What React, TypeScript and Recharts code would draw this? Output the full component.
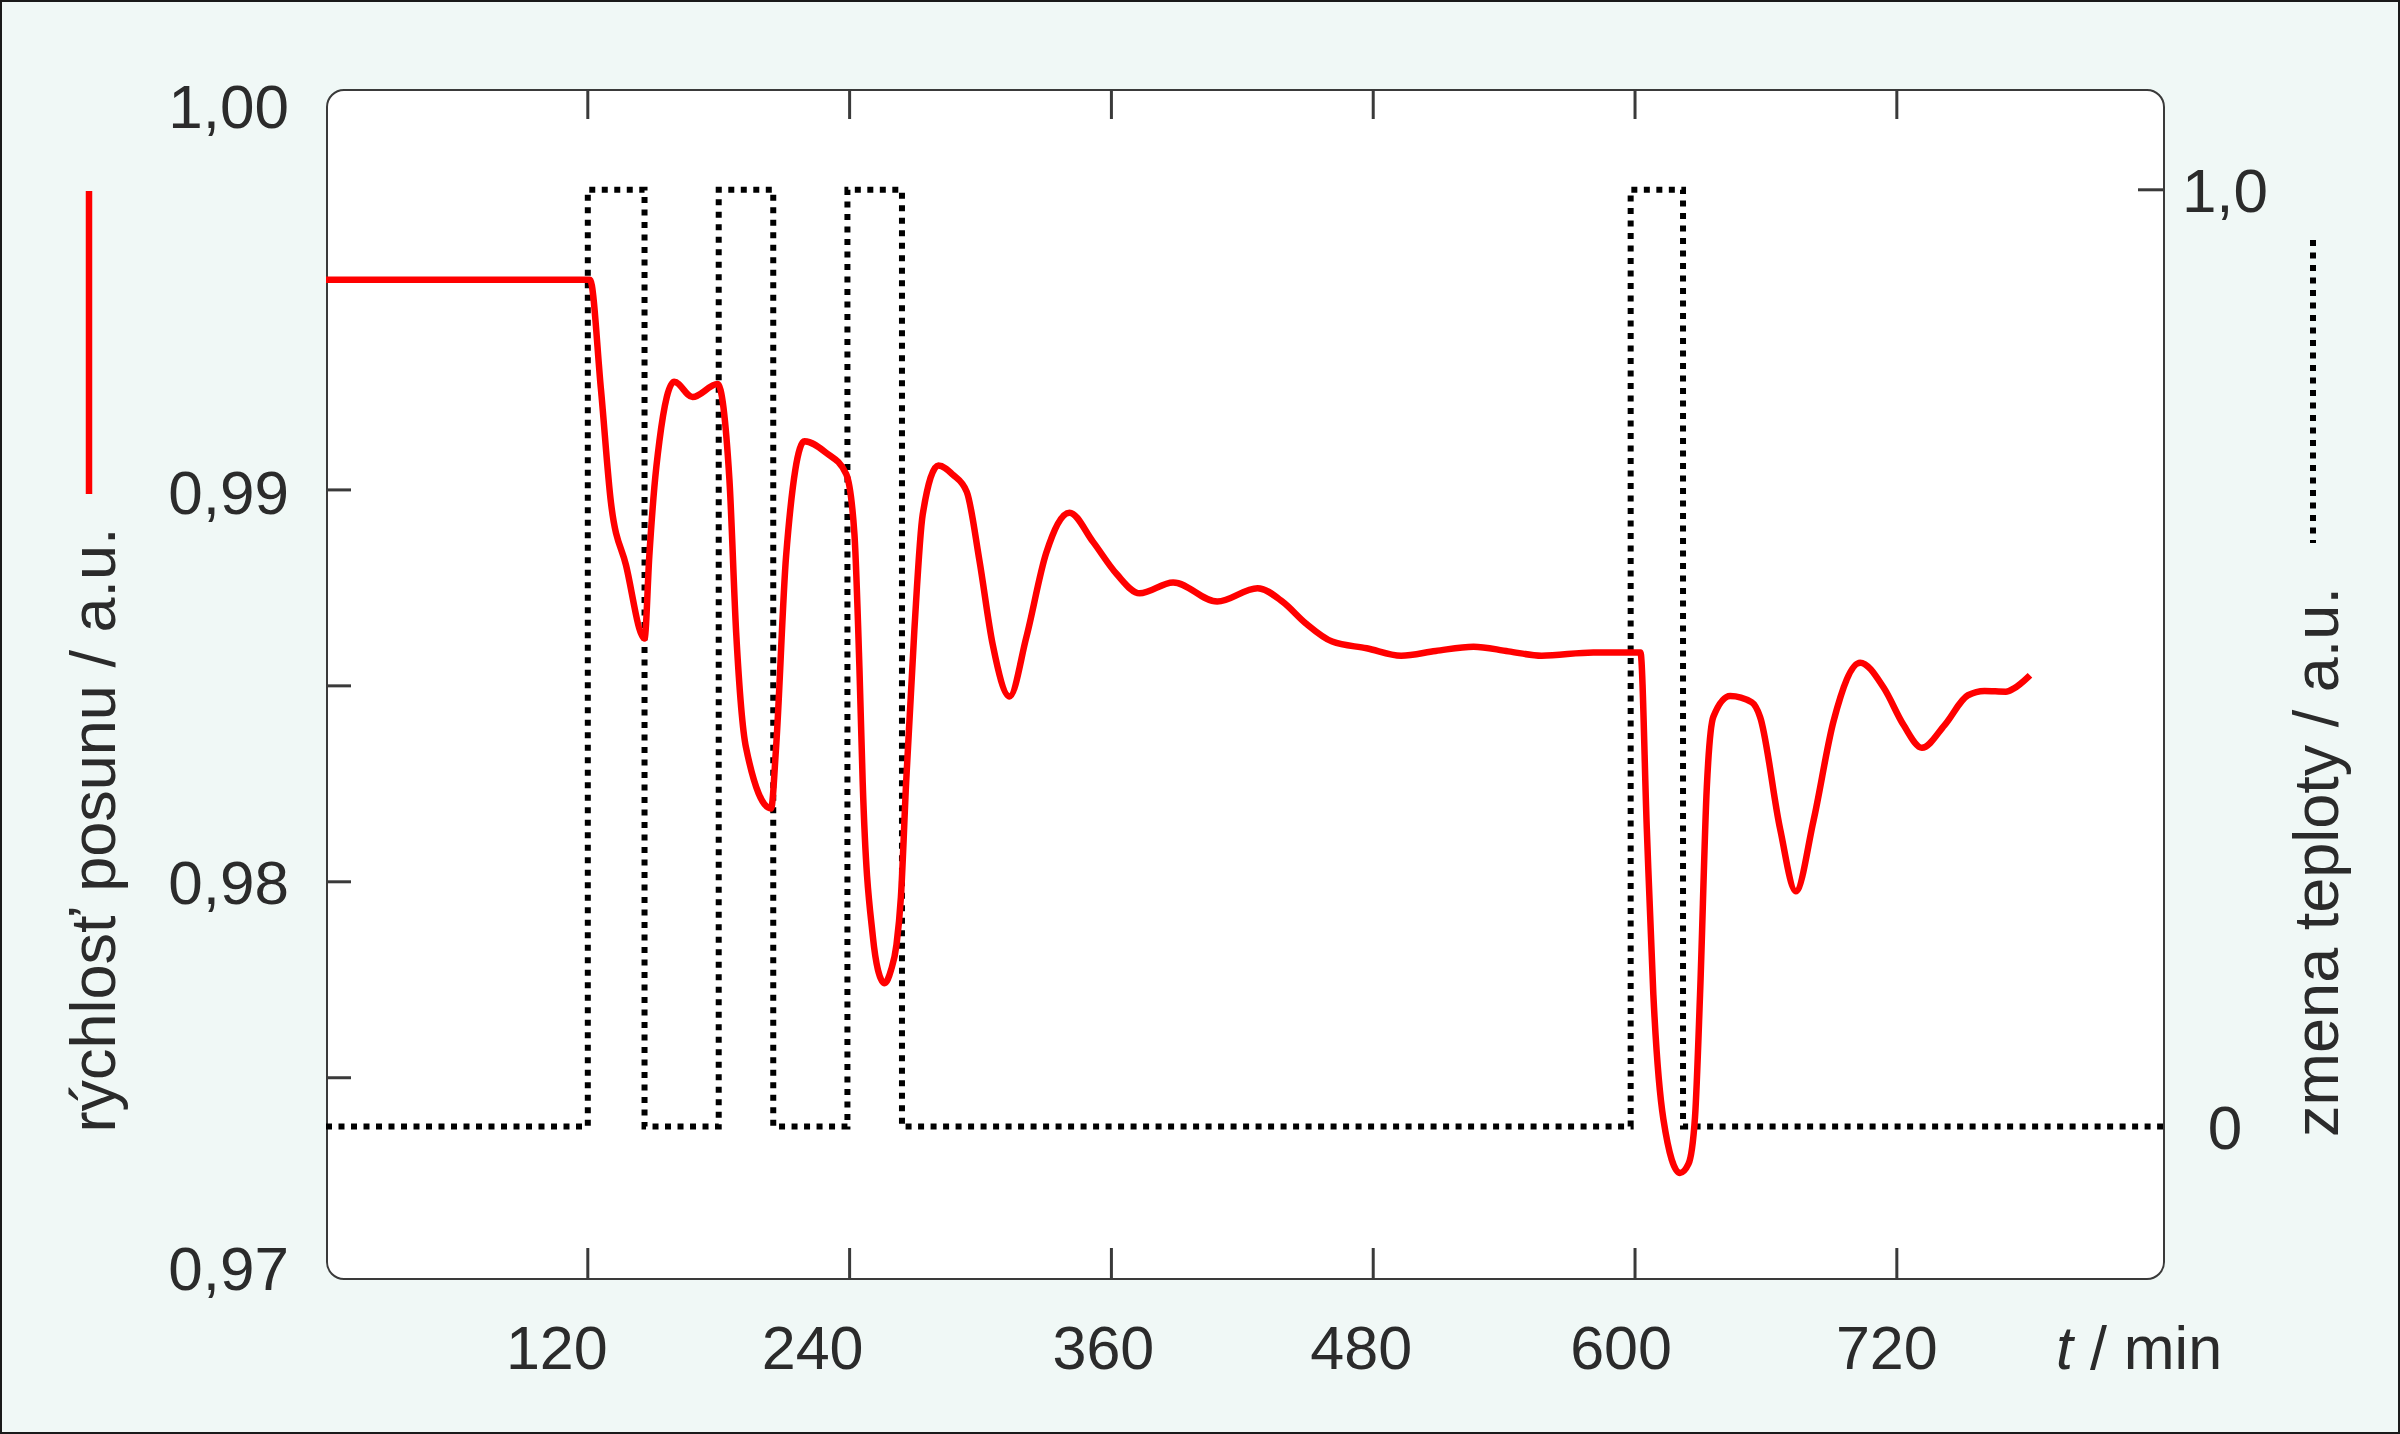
import React from "react";
import { LineChart, Line, XAxis, YAxis } from "recharts";

// red curve: rychlost posunu
const TIME = [
  0, 121, 126, 130.6, 137.5, 146, 148.2, 150.5, 152.8, 159.6, 168, 179.5, 184.9, 188, 192.5, 204,
  206.3, 210.9, 219.3, 229.2, 238.4, 242.2, 244.5, 246, 250.6, 253, 256, 259, 261.5, 263.5, 265.9,
  269.7, 273.5, 280.7, 287.3, 293.7, 299.5, 305.6, 313.3, 321, 330.1, 340.8, 351.5, 362.3, 372.9,
  388.3, 408.5, 427, 438.4, 449, 461.2, 477, 492.8, 508.6, 526, 542, 557.2, 580.9, 602.5, 605.4,
  608.4, 613, 620.6, 624.5, 627.5, 629.8, 632.9, 635.9, 643.6, 653.5, 657.3, 666.5, 673.7, 681.8,
  691, 703.2, 714, 723.1, 731.5, 741.9, 752.6, 760.2, 770, 773.5, 781,
];
const SPEED = [
  0.99536, 0.99536, 0.99258, 0.98968, 0.98808, 0.98621, 0.98832, 0.99007, 0.99124, 0.99276,
  0.99237, 0.9927, 0.99027, 0.98636, 0.98343, 0.98187, 0.98343, 0.98832, 0.99124, 0.99095,
  0.99041, 0.98888, 0.98546, 0.98253, 0.97863, 0.97775, 0.97741, 0.97775, 0.9784, 0.9796,
  0.98253, 0.98644, 0.98937, 0.99062, 0.99039, 0.98995, 0.9882, 0.98605, 0.98473, 0.98624,
  0.98839, 0.98942, 0.98868, 0.98786, 0.98736, 0.98764, 0.98715, 0.98749, 0.98715, 0.9866,
  0.98613, 0.98596, 0.98577, 0.98589, 0.986, 0.98588, 0.98577, 0.98585, 0.98585, 0.98135,
  0.97712, 0.97394, 0.97257, 0.9728, 0.974, 0.97712, 0.98241, 0.98421, 0.98474, 0.98458,
  0.98421, 0.98135, 0.97976, 0.98156, 0.9841, 0.98559, 0.98495, 0.984, 0.98342, 0.984,
  0.98476, 0.98487, 0.98485, 0.98493, 0.98527,
];

// dotted steps: zmena teploty
const PULSE_TIME = [0, 120, 146, 180, 205, 239, 264, 598, 622, 842];
const PULSE_LEVEL = [0, 1, 0, 1, 0, 1, 0, 1, 0, 0];

const X_TICKS = [120, 240, 360, 480, 600, 720];
const Y_TICKS = [0.97, 0.975, 0.98, 0.985, 0.99, 1.0];
const Y_LABELS = ["0,97", "", "0,98", "", "0,99", "1,00"];
const Y_MARKED = [false, true, true, true, true, false];
const R_TICKS = [0, 1];
const R_LABELS = ["0", "1,0"];

const speedData = TIME.map((t, i) => ({ t, v: SPEED[i] }));
const pulseData = PULSE_TIME.map((t, i) => ({ t, p: PULSE_LEVEL[i] }));

const FONT = "'Liberation Sans', Arial, sans-serif";
const INK = "#2b2b2b";
const FRAME = "#3a3a3a";
const DOTS = "6 6.5";

// the original labels sit a little off their ticks
const X_LABEL_SHIFT = [-31, -37, -8, -12, -14, -10];
const Y_LABEL_SHIFT = [-6, 0, 0, 0, 2, 8];

const idx = (arr: number[], v: number) => arr.findIndex((a) => Math.abs(a - v) < 1e-6);

const BottomTick = (props: any) => {
  const { x, y, payload } = props;
  const i = idx(X_TICKS, payload.value);
  return (
    <g>
      <line x1={x} x2={x} y1={y} y2={y - 30} stroke={FRAME} strokeWidth={3} />
      <text
        x={x + (X_LABEL_SHIFT[i] || 0)}
        y={y + 91}
        textAnchor="middle"
        fontFamily={FONT}
        fontSize={61}
        fill={INK}
      >
        {payload.value}
      </text>
    </g>
  );
};

const TopTick = (props: any) => {
  const { x, y } = props;
  return <line x1={x} x2={x} y1={y} y2={y + 30} stroke={FRAME} strokeWidth={3} />;
};

const LeftTick = (props: any) => {
  const { x, y, payload } = props;
  const i = idx(Y_TICKS, payload.value);
  return (
    <g>
      {Y_MARKED[i] && <line x1={x} x2={x + 25} y1={y} y2={y} stroke={FRAME} strokeWidth={3} />}
      {Y_LABELS[i] && (
        <text
          x={x - 37}
          y={y + 22 + (Y_LABEL_SHIFT[i] || 0)}
          textAnchor="end"
          fontFamily={FONT}
          fontSize={62}
          fill={INK}
        >
          {Y_LABELS[i]}
        </text>
      )}
    </g>
  );
};

const RightTick = (props: any) => {
  const { x, y, payload } = props;
  const i = idx(R_TICKS, payload.value);
  return (
    <g>
      {R_TICKS[i] === 1 && <line x1={x} x2={x - 25} y1={y} y2={y} stroke={FRAME} strokeWidth={3} />}
      <text x={x + 62} y={y + 22} textAnchor="middle" fontFamily={FONT} fontSize={62} fill={INK}>
        {R_LABELS[i]}
      </text>
    </g>
  );
};

export default function App() {
  return (
    <div
      style={{
        position: "absolute",
        left: 0,
        top: 0,
        width: 2400,
        height: 1434,
        background: "#f0f8f6",
        border: "2px solid #1a1a1a",
        boxSizing: "border-box",
        overflow: "hidden",
      }}
    >
      <div
        style={{
          position: "absolute",
          left: 324,
          top: 87,
          width: 1839,
          height: 1191,
          background: "#ffffff",
          border: `2.5px solid ${FRAME}`,
          borderRadius: 18,
          boxSizing: "border-box",
        }}
      />
      <div style={{ position: "absolute", left: -2, top: -2 }}>
        <LineChart width={2400} height={1434} margin={{ top: 69, right: 117, bottom: 56, left: 126 }}>
          <XAxis
            xAxisId="b"
            type="number"
            dataKey="t"
            domain={[0, 842]}
            ticks={X_TICKS}
            orientation="bottom"
            height={100}
            tickSize={0}
            tickMargin={0}
            tickLine={false}
            axisLine={false}
            tick={BottomTick}
            allowDataOverflow
          />
          <XAxis
            xAxisId="top"
            type="number"
            dataKey="t"
            domain={[0, 842]}
            ticks={X_TICKS}
            orientation="top"
            height={20}
            tickSize={0}
            tickMargin={0}
            tickLine={false}
            axisLine={false}
            tick={TopTick}
            allowDataOverflow
          />
          <YAxis
            yAxisId="v"
            type="number"
            domain={[0.96989, 1.00023]}
            ticks={Y_TICKS}
            width={200}
            tickSize={0}
            tickMargin={0}
            tickLine={false}
            axisLine={false}
            tick={LeftTick}
            allowDataOverflow
          />
          <YAxis
            yAxisId="p"
            orientation="right"
            type="number"
            domain={[-0.1617, 1.1076]}
            ticks={R_TICKS}
            width={120}
            tickSize={0}
            tickMargin={0}
            tickLine={false}
            axisLine={false}
            tick={RightTick}
            allowDataOverflow
          />
          <Line
            xAxisId="b"
            yAxisId="p"
            data={pulseData}
            dataKey="p"
            type="stepAfter"
            stroke="#000000"
            strokeWidth={6}
            strokeDasharray={DOTS}
            dot={false}
            activeDot={false}
            isAnimationActive={false}
          />
          <Line
            xAxisId="b"
            yAxisId="v"
            data={speedData}
            dataKey="v"
            type="monotone"
            stroke="#ff0000"
            strokeWidth={6.5}
            dot={false}
            activeDot={false}
            isAnimationActive={false}
          />
        </LineChart>
      </div>
      {/* legend marks and axis titles */}
      <svg
        width={2400}
        height={1434}
        style={{ position: "absolute", left: -2, top: -2, pointerEvents: "none" }}
      >
        <line x1={89} x2={89} y1={191} y2={494} stroke="#ff0000" strokeWidth={6.5} />
        <text
          x={115}
          y={830}
          transform="rotate(-90 115 830)"
          textAnchor="middle"
          fontFamily={FONT}
          fontSize={63}
          fill={INK}
        >
          rýchlosť posunu / a.u.
        </text>
        <line
          x1={2313}
          x2={2313}
          y1={240}
          y2={543}
          stroke="#000000"
          strokeWidth={6}
          strokeDasharray={DOTS}
        />
        <text
          x={2338}
          y={862}
          transform="rotate(-90 2338 862)"
          textAnchor="middle"
          fontFamily={FONT}
          fontSize={63}
          fill={INK}
        >
          zmena teploty / a.u.
        </text>
        <text x={2056} y={1369} fontFamily={FONT} fontSize={61} fill={INK}>
          <tspan fontStyle="italic">t</tspan>
          <tspan> / min</tspan>
        </text>
      </svg>
    </div>
  );
}
